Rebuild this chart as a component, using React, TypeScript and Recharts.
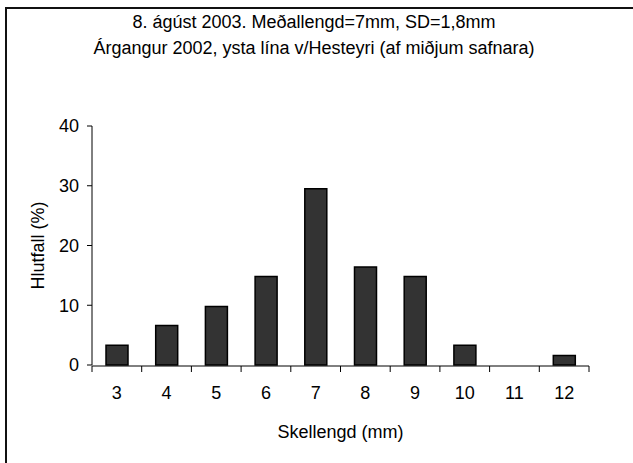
import { BarChart, Bar, XAxis, YAxis, Label } from 'recharts';

const lengths = ['3', '4', '5', '6', '7', '8', '9', '10', '11', '12'];
const percent = [3.3, 6.6, 9.8, 14.8, 29.5, 16.4, 14.8, 3.3, 0, 1.6];
const yTicks = [0, 10, 20, 30, 40];
const edgeTicks = [0, 1, 2, 3, 4, 5, 6, 7, 8, 9, 10];

const titleLines = [
  '8. ágúst 2003. Meðallengd=7mm, SD=1,8mm',
  'Árgangur 2002, ysta lína v/Hesteyri (af miðjum safnara)',
];

const data = lengths.map((len, i) => ({ len, hlutfall: percent[i], edge: i }));

const font = '"Liberation Sans", Arial, sans-serif';

const App = () => (
  <div
    style={{
      position: 'absolute',
      left: 0,
      top: 0,
      width: 633,
      height: 463,
      overflow: 'hidden',
      background: '#fff',
      fontFamily: font,
    }}
  >
    <div
      style={{
        position: 'absolute',
        left: 5,
        top: 7,
        width: 660,
        height: 480,
        borderLeft: '2px solid #111',
        borderTop: '2px solid #111',
      }}
    />
    <div
      style={{
        position: 'absolute',
        left: 0,
        width: 628,
        top: 9,
        textAlign: 'center',
        fontSize: 18,
        lineHeight: '26px',
        color: '#000',
      }}
    >
      {titleLines.map((t) => (
        <div key={t}>{t}</div>
      ))}
    </div>
    <BarChart
      width={633}
      height={463}
      data={data}
      margin={{ top: 126, right: 44, bottom: 0, left: 0 }}
      style={{ position: 'absolute', left: 0, top: 0 }}
    >
      {/* category labels sit on a 1px axis so the tick axis below lands on the plot edge */}
      <XAxis
        dataKey="len"
        height={1}
        tickLine={false}
        axisLine={false}
        tickSize={5}
        tickMargin={16}
        tick={{ fill: '#000', fontSize: 18, fontFamily: font }}
      >
        <Label
          value="Skellengd (mm)"
          position="center"
          dy={66}
          style={{ fill: '#000', fontSize: 18, fontFamily: font }}
        />
      </XAxis>
      <XAxis
        xAxisId="edges"
        dataKey="edge"
        type="number"
        domain={[0, 10]}
        ticks={edgeTicks}
        allowDataOverflow
        height={97}
        tickSize={6}
        tickFormatter={() => ''}
        axisLine={{ stroke: '#000' }}
        tickLine={{ stroke: '#000' }}
      />
      <YAxis
        domain={[0, 40]}
        ticks={yTicks}
        width={92}
        tickSize={5}
        tickMargin={8}
        axisLine={{ stroke: '#000' }}
        tickLine={{ stroke: '#000' }}
        tick={{ fill: '#000', fontSize: 18, fontFamily: font }}
      >
        <Label
          value="Hlutfall (%)"
          angle={-90}
          position="center"
          dx={-8}
          style={{ fill: '#000', fontSize: 18, fontFamily: font }}
        />
      </YAxis>
      <Bar
        dataKey="hlutfall"
        fill="#333333"
        stroke="#000"
        strokeWidth={1.5}
        barSize={22}
        isAnimationActive={false}
      />
    </BarChart>
  </div>
);

export default App;
